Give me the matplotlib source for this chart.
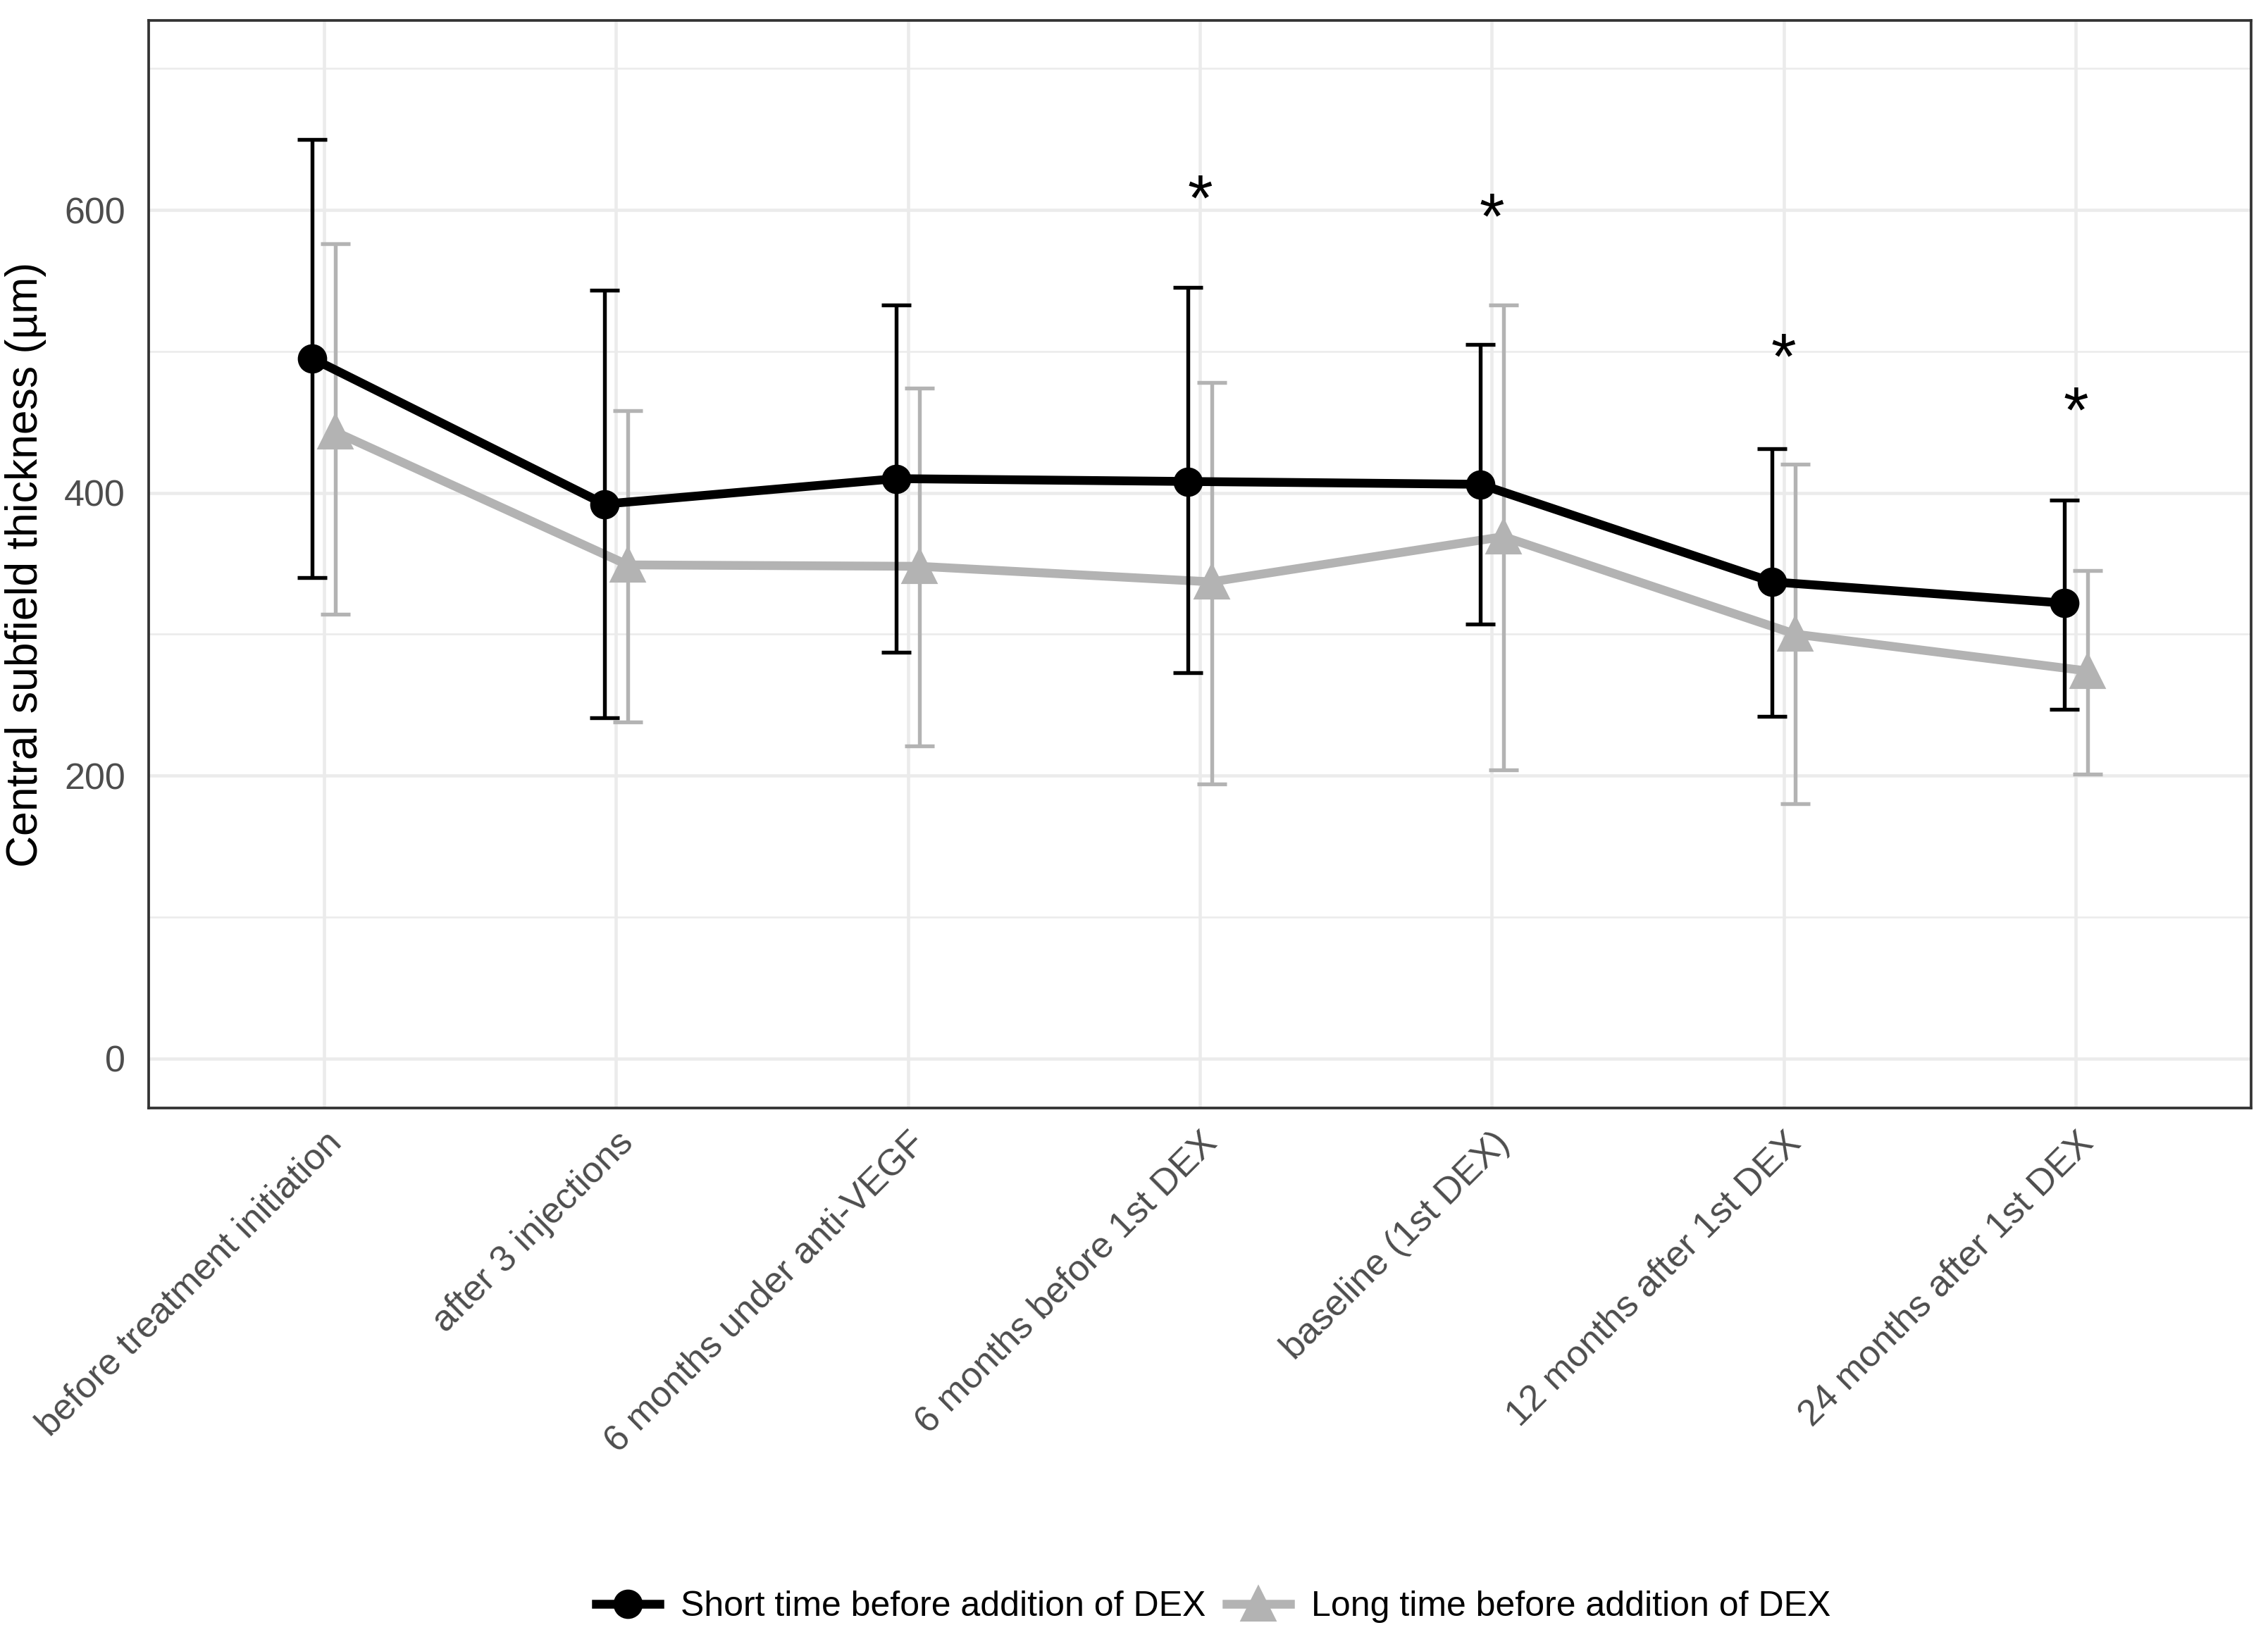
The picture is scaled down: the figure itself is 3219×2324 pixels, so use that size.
import numpy as np
import matplotlib
matplotlib.use("Agg")
import matplotlib.pyplot as plt
from matplotlib.lines import Line2D

plt.rcParams['font.family'] = ['Liberation Sans', 'DejaVu Sans']

# ---------------------------------------------------------
# data
# ---------------------------------------------------------
timepoints = ["before treatment initiation", "after 3 injections",
              "6 months under anti-VEGF", "6 months before 1st DEX",
              "baseline (1st DEX)", "12 months after 1st DEX",
              "24 months after 1st DEX"]

short_mean = [495, 392, 410, 408, 406, 337, 322]
short_low = [340, 241, 287, 273, 307, 242, 247]
short_high = [650, 543, 533, 545, 505, 431, 395]

long_mean = [443, 349, 348, 337, 369, 300, 274]
long_low = [314, 238, 221, 194, 204, 180, 201]
long_high = [576, 458, 474, 478, 533, 420, 345]

star_idx = [3, 4, 5, 6]
star_y = [605, 592, 493, 455]

BLACK = "#000000"
GREY = "#B3B3B3"

fig = plt.figure(figsize=(3219 / 300, 2324 / 300), dpi=300)
ax = fig.add_axes([0.0656, 0.3232, 0.9269, 0.6643])

x = np.arange(len(timepoints))
dodge = 0.04

# error bars + lines (long group underneath)
ax.errorbar(x + dodge, long_mean,
            yerr=[np.array(long_mean) - np.array(long_low),
                  np.array(long_high) - np.array(long_mean)],
            color=GREY, lw=3.0, marker="^", ms=11, elinewidth=1.3,
            capsize=5, capthick=1.3, zorder=3)
ax.errorbar(x - dodge, short_mean,
            yerr=[np.array(short_mean) - np.array(short_low),
                  np.array(short_high) - np.array(short_mean)],
            color=BLACK, lw=3.0, marker="o", ms=9, elinewidth=1.3,
            capsize=5, capthick=1.3, zorder=4)

for i, yy in zip(star_idx, star_y):
    ax.text(x[i], yy, "*", ha="center", va="center", fontsize=22, color="black")

# axes styling
ax.set_xlim(-0.6, len(timepoints) - 0.4)
ax.set_ylim(-35, 734)
ax.set_yticks([0, 200, 400, 600])
ax.set_yticks([100, 300, 500, 700], minor=True)
ax.set_xticks(x)
ax.set_xticklabels(timepoints, rotation=45, ha="right", rotation_mode="anchor",
                   fontsize=12.5, color="#4D4D4D")
ax.tick_params(axis="y", labelsize=12.5, labelcolor="#4D4D4D", length=0, pad=8)
ax.tick_params(axis="x", length=0, pad=6)
ax.tick_params(which="minor", length=0)
ax.grid(True, which="major", color="#EBEBEB", lw=1.1, zorder=0)
ax.grid(True, which="minor", axis="y", color="#EBEBEB", lw=0.6, zorder=0)
ax.set_axisbelow(True)
for s in ax.spines.values():
    s.set_color("#333333")
    s.set_linewidth(0.9)

ax.set_ylabel("Central subfield thickness (µm)", fontsize=15, labelpad=6)

handles = [Line2D([], [], color=BLACK, lw=3.0, marker="o", ms=9),
           Line2D([], [], color=GREY, lw=3.0, marker="^", ms=11)]
fig.legend(handles, ["Short time before addition of DEX",
                     "Long time before addition of DEX"],
           loc="center", bbox_to_anchor=(0.535, 0.0185), ncol=2, frameon=False,
           fontsize=12, handlelength=1.8, columnspacing=0.6, handletextpad=0.6)

fig.savefig("out.png", dpi=300)
